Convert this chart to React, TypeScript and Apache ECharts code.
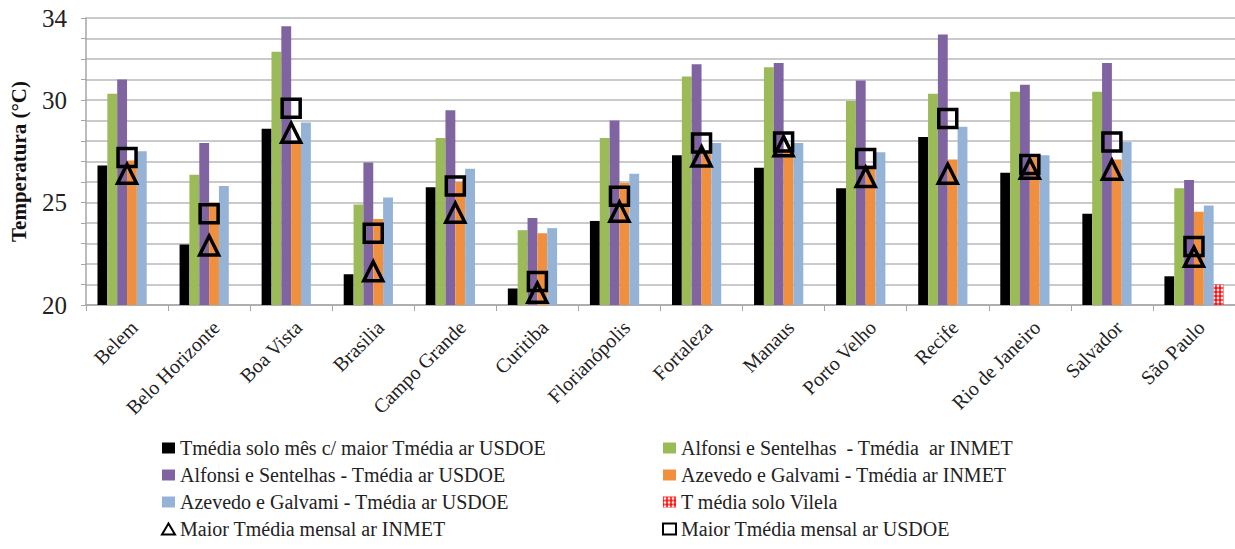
import React, { useEffect, useRef } from "react";
import * as echarts from "echarts";

const categories = ["Belem", "Belo Horizonte", "Boa Vista", "Brasilia", "Campo Grande", "Curitiba", "Florianópolis", "Fortaleza", "Manaus", "Porto Velho", "Recife", "Rio de Janeiro", "Salvador", "São Paulo"];

const soloUSDOE = [26.8, 22.95, 28.6, 21.5, 25.75, 20.8, 24.1, 27.3, 26.7, 25.7, 28.2, 26.45, 24.45, 21.4];
const alfonsiINMET = [30.3, 26.35, 32.35, 24.9, 28.15, 23.65, 28.15, 31.15, 31.6, 29.95, 30.3, 30.4, 30.4, 25.7];
const alfonsiUSDOE = [31.0, 27.9, 33.6, 26.95, 29.5, 24.25, 29.0, 31.75, 31.8, 30.95, 33.2, 30.75, 31.8, 26.1];
const azevedoINMET = [27.05, 25.0, 27.9, 24.2, 26.0, 23.5, 25.95, 27.4, 27.6, 26.8, 27.1, 27.2, 27.1, 24.55];
const azevedoUSDOE = [27.5, 25.8, 28.9, 25.25, 26.65, 23.75, 26.4, 27.9, 27.9, 27.45, 28.7, 27.3, 27.95, 24.85];
const soloVilela = [null, null, null, null, null, null, null, null, null, null, null, null, null, 21.0];
const maiorINMET = [26.4, 22.9, 28.4, 21.65, 24.5, 20.6, 24.55, 27.25, 27.75, 26.25, 26.4, 26.65, 26.6, 22.35];
const maiorUSDOE = [27.2, 24.45, 29.6, 23.5, 25.8, 21.15, 25.3, 27.9, 27.95, 27.15, 29.1, 26.85, 27.95, 22.85];

const yTickLabels = [20, 25, 30, 34];

const names = [
  "Tmédia solo mês c/ maior Tmédia ar USDOE",
  "Alfonsi e Sentelhas  - Tmédia  ar INMET",
  "Alfonsi e Sentelhas - Tmédia ar USDOE",
  "Azevedo e Galvami - Tmédia ar INMET",
  "Azevedo e Galvami - Tmédia ar USDOE",
  "T média solo Vilela",
  "Maior Tmédia mensal ar INMET",
  "Maior Tmédia mensal ar USDOE",
];

const SERIF = "Liberation Serif";

export default function App() {
  const ref = useRef<HTMLDivElement>(null);
  useEffect(() => {
    if (!ref.current) return;
    const chart = echarts.init(ref.current, undefined, { renderer: "svg" });
    const bar = (name: string, data: any[], color: string, extra: any = {}) => ({
      name,
      type: "bar",
      data,
      barGap: "0%",
      barCategoryGap: "28%",
      itemStyle: { color, ...extra },
    });
    const legendText = { fontFamily: SERIF, fontSize: 20, color: "#222", lineHeight: 20 };
    const legendData = (idxs: number[]) =>
      idxs.map((i) => ({ name: names[i], icon: i === 6 ? "triangle" : "rect" }));
    chart.setOption({
      animation: false,
      backgroundColor: "#ffffff",
      textStyle: { fontFamily: SERIF },
      grid: { left: 86, top: 18, width: 1152, height: 287, containLabel: false },
      legend: [
        {
          orient: "vertical",
          left: 156,
          top: 433,
          itemWidth: 13,
          itemHeight: 11,
          itemGap: 7,
          textStyle: legendText,
          data: legendData([0, 2, 4, 6]),
        },
        {
          orient: "vertical",
          left: 657,
          top: 433,
          itemWidth: 13,
          itemHeight: 11,
          itemGap: 7,
          textStyle: legendText,
          data: legendData([1, 3, 5, 7]),
        },
      ],
      xAxis: {
        type: "category",
        data: categories,
        boundaryGap: true,
        axisLine: { lineStyle: { color: "#a6a6a6", width: 1.5 } },
        axisTick: { show: true, length: 6, lineStyle: { color: "#a6a6a6" } },
        axisLabel: {
          interval: 0,
          rotate: 45,
          fontFamily: SERIF,
          fontSize: 20,
          color: "#222",
          margin: 12,
          verticalAlign: "top",
        },
      },
      yAxis: {
        type: "value",
        min: 20,
        max: 34,
        interval: 1,
        name: "Temperatura (°C)",
        nameLocation: "middle",
        nameGap: 57,
        nameTextStyle: { fontFamily: SERIF, fontSize: 21, fontWeight: "bold", color: "#111" },
        axisLine: { show: true, lineStyle: { color: "#a6a6a6", width: 1.5 } },
        axisTick: { show: true, length: 5, lineStyle: { color: "#a6a6a6" } },
        splitLine: { lineStyle: { color: "#b8b8b8", width: 1.5 } },
        axisLabel: {
          fontFamily: SERIF,
          fontSize: 25,
          color: "#222",
          margin: 19,
          formatter: (v: number) => (yTickLabels.includes(v) ? String(v) : ""),
        },
      },
      series: [
        bar(names[0], soloUSDOE, "#000000"),
        bar(names[1], alfonsiINMET, "#9BBB59"),
        bar(names[2], alfonsiUSDOE, "#8064A2"),
        bar(names[3], azevedoINMET, "#F0903F"),
        bar(names[4], azevedoUSDOE, "#95B3D7"),
        bar(names[5], soloVilela, "#FF1010", {
          decal: {
            symbol: "circle",
            symbolSize: 0.7,
            color: "rgba(255,255,255,0.95)",
            dashArrayX: [[4, 0]],
            dashArrayY: [4, 0],
            rotation: 0,
          },
        }),
        {
          name: names[6],
          type: "line",
          data: maiorINMET,
          symbol: "triangle",
          symbolSize: 19,
          lineStyle: { width: 0, opacity: 0 },
          itemStyle: { color: "rgba(0,0,0,0)", borderColor: "#000", borderWidth: 3.5 },
          z: 5,
        },
        {
          name: names[7],
          type: "line",
          data: maiorUSDOE,
          symbol: "rect",
          symbolSize: 18,
          lineStyle: { width: 0, opacity: 0 },
          itemStyle: { color: "rgba(0,0,0,0)", borderColor: "#000", borderWidth: 3.5 },
          z: 6,
        },
      ],
    });
    return () => chart.dispose();
  }, []);
  return (
    <div
      ref={ref}
      style={{ position: "absolute", left: 0, top: 0, width: 1235, height: 549 }}
    />
  );
}
